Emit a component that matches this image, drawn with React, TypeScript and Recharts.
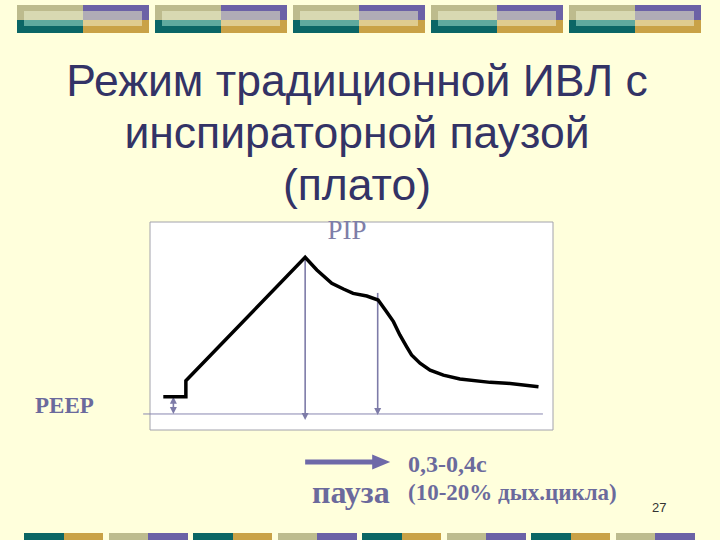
import { ComposedChart, Line, XAxis, YAxis, ReferenceLine, ReferenceArea } from "recharts";

// airway pressure over one breath (arbitrary units 0..100)
const time = [3.3, 8.9, 8.9, 38.5, 41.4, 45.1, 48.0, 50.4, 53.8, 56.6, 58.7, 60.4, 62.0, 63.7, 64.9, 67.0, 69.5, 72.8, 76.9, 84.4, 88.5, 96.4];
const pressure = [16.0, 16.0, 23.7, 83.0, 76.9, 70.5, 67.8, 65.7, 64.4, 62.5, 56.9, 52.1, 45.7, 40.0, 36.1, 32.1, 28.8, 26.4, 24.5, 22.9, 22.5, 20.8];

// vertical markers: PEEP, PIP, end of plateau
const markerTime = [5.8, 38.5, 56.5];
const markerTop = [16.0, 83.0, 65.9];
const markerBottom = [7.7, 4.8, 7.2];

const zeroLevel = 7.7;
const zeroFrom = -1.7;
const zeroTo = 97.5;

// arrow under the chart showing the pause length
const pauseFrom = 38.5;
const pauseTo = 59.6;
const pauseLevel = -15.4;

const titleLines = ["Режим традиционной ИВЛ с", "инспираторной паузой", "(плато)"];

const data = time.map((t, i) => ({ t, p: pressure[i] }));

const ink = "#6b6a9c";
const markColor = "#7d7ba8";

function arrowShape(both: boolean, h: number, w: number, sw: number, color: string) {
  return (props: any) => {
    const { x1, y1, x2, y2 } = props;
    const dx = x2 - x1;
    const dy = y2 - y1;
    const len = Math.hypot(dx, dy) || 1;
    const ux = dx / len;
    const uy = dy / len;
    const nx = -uy;
    const ny = ux;
    const head = (tx: number, ty: number, dirx: number, diry: number) => {
      const bx = tx - dirx * h;
      const by = ty - diry * h;
      return `${tx},${ty} ${bx + nx * w},${by + ny * w} ${bx - nx * w},${by - ny * w}`;
    };
    const sx = both ? x1 + ux * h * 0.7 : x1;
    const sy = both ? y1 + uy * h * 0.7 : y1;
    return (
      <g>
        <line x1={sx} y1={sy} x2={x2 - ux * h * 0.7} y2={y2 - uy * h * 0.7} stroke={color} strokeWidth={sw} />
        <polygon points={head(x2, y2, ux, uy)} fill={color} />
        {both && <polygon points={head(x1, y1, -ux, -uy)} fill={color} />}
      </g>
    );
  };
}

function TopGroup({ x }: { x: number }) {
  return (
    <div style={{ position: "absolute", left: x, top: 5, width: 132, height: 28 }}>
      <div style={{ position: "absolute", left: 0, top: 0, width: 66, height: 15, background: "#bdbb8d" }} />
      <div style={{ position: "absolute", left: 7, top: 6, width: 59, height: 9, background: "#d8d9b2" }} />
      <div style={{ position: "absolute", left: 0, top: 15, width: 66, height: 13, background: "#0b6666" }} />
      <div style={{ position: "absolute", left: 7, top: 15, width: 59, height: 6, background: "#5fa99e" }} />
      <div style={{ position: "absolute", left: 66, top: 0, width: 66, height: 15, background: "#6c62a6" }} />
      <div style={{ position: "absolute", left: 66, top: 6, width: 59, height: 9, background: "#b0acb6" }} />
      <div style={{ position: "absolute", left: 66, top: 15, width: 66, height: 13, background: "#c9a247" }} />
      <div style={{ position: "absolute", left: 66, top: 15, width: 59, height: 6, background: "#dfcc90" }} />
    </div>
  );
}

export default function App() {
  const topGroups = [0, 1, 2, 3, 4];
  const bottomPairs = [0, 1, 2, 3, 4, 5, 6, 7];
  return (
    <div style={{ position: "absolute", left: 0, top: 0, width: 720, height: 540, background: "#ffffdc", overflow: "hidden" }}>
      {topGroups.map((i) => (
        <TopGroup key={i} x={17 + i * 138} />
      ))}
      {bottomPairs.map((i) => (
        <div key={i} style={{ position: "absolute", left: 24 + i * 84.5, top: 533, width: 79, height: 7, display: "flex" }}>
          <div style={{ flex: 1, background: i % 2 === 0 ? "#0b6664" : "#bdbc8e" }} />
          <div style={{ flex: 1, background: i % 2 === 0 ? "#c9a246" : "#6b62a6" }} />
        </div>
      ))}

      <div style={{ position: "absolute", left: 0, top: 0 }}>
        <ComposedChart width={720} height={540} data={data} margin={{ top: 222, right: 167, bottom: 110, left: 150 }}>
          <XAxis type="number" dataKey="t" domain={[0, 100]} hide />
          <YAxis type="number" domain={[0, 100]} hide />
          <ReferenceArea x1={0} x2={100} y1={0} y2={100} fill="#ffffff" fillOpacity={1} stroke="#a2a2ac" strokeWidth={1} />
          <ReferenceLine
            segment={[{ x: zeroFrom, y: zeroLevel }, { x: zeroTo, y: zeroLevel }]}
            stroke="#8886b0"
            strokeWidth={1}
            ifOverflow="visible"
          />
          {markerTime.map((t, i) => (
            <ReferenceLine
              key={i}
              segment={[{ x: t, y: markerTop[i] }, { x: t, y: markerBottom[i] }]}
              ifOverflow="visible"
              shape={arrowShape(i === 0, 7, 3.5, 1.6, markColor)}
            />
          ))}
          <ReferenceLine
            segment={[{ x: pauseFrom, y: pauseLevel }, { x: pauseTo, y: pauseLevel }]}
            ifOverflow="visible"
            shape={arrowShape(false, 18, 7.5, 5, "#6e69a8")}
          />
          <Line type="linear" dataKey="p" stroke="#000000" strokeWidth={3.5} dot={false} isAnimationActive={false} />
        </ComposedChart>
      </div>

      <svg width={720} height={540} style={{ position: "absolute", left: 0, top: 0, pointerEvents: "none" }}>
        {titleLines.map((s, i) => (
          <text key={i} x={357} y={96 + i * 52} textAnchor="middle" fontFamily="'Liberation Sans', Arial, sans-serif" fontSize={44.5} fill="#333366">
            {s}
          </text>
        ))}
        <text x={347} y={239} textAnchor="middle" fontFamily="'Liberation Serif', 'Times New Roman', serif" fontSize={27} fill="#7e7ea8">
          PIP
        </text>
        <text x={35} y={413} fontFamily="'Liberation Serif', 'Times New Roman', serif" fontWeight="bold" fontSize={23} fill={ink}>
          PEEP
        </text>
        <text x={408} y={472} fontFamily="'Liberation Serif', 'Times New Roman', serif" fontWeight="bold" fontSize={24} fill={ink}>
          0,3-0,4с
        </text>
        <text x={312} y={503} fontFamily="'Liberation Serif', 'Times New Roman', serif" fontWeight="bold" fontSize={32} fill={ink}>
          пауза
        </text>
        <text x={408} y={500} fontFamily="'Liberation Serif', 'Times New Roman', serif" fontWeight="bold" fontSize={23} fill={ink}>
          (10-20% дых.цикла)
        </text>
        <text x={652} y={512} fontFamily="'Liberation Sans', Arial, sans-serif" fontSize={13} fill="#333333">
          27
        </text>
      </svg>
    </div>
  );
}
